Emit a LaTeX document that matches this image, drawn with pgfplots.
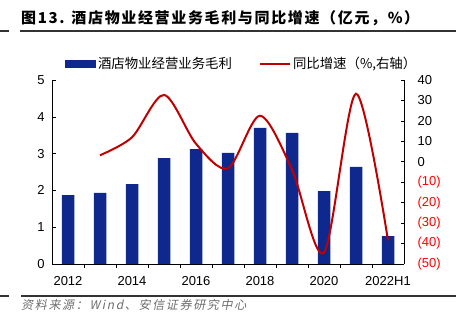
\documentclass[border=0pt]{standalone}
\usepackage{pgfplots}
\pgfplotsset{compat=1.18}
\usepackage{fontspec}
\setmainfont{Liberation Sans}
\newfontfamily\cjk{Noto Sans CJK SC}
\newfontfamily\cjktitle{Noto Sans CJK SC}[LetterSpace=11]
\newfontfamily\cjkit{Noto Sans CJK SC}[FakeSlant=0.2, LetterSpace=14]
\definecolor{barblue}{RGB}{14,40,142}
\definecolor{linered}{RGB}{192,0,0}
\definecolor{notegray}{RGB}{110,110,110}
\begin{document}
\begin{tikzpicture}
\path[use as bounding box] (0,0) rectangle (456bp,324bp);
% title and rules
\node[anchor=west, inner sep=0] at (21bp,306bp) {\cjktitle\bfseries\fontsize{15bp}{17bp}\selectfont 图13. 酒店物业经营业务毛利与同比增速（亿元，\%）};
\draw[line width=1.2bp, black!80] (0bp,293bp) -- (9bp,293bp);
\draw[line width=1.2bp, black!80] (20bp,293bp) -- (456bp,293bp);
\draw[line width=1.2bp, black!80] (0bp,28bp) -- (9bp,28bp);
\draw[line width=1.2bp, black!80] (21bp,28bp) -- (456bp,28bp);
\node[anchor=west, inner sep=0, text=notegray] at (21bp,19bp) {\cjkit\fontsize{12bp}{14bp}\selectfont 资料来源：Wind、安信证券研究中心};
\begin{axis}[
  at={(52bp,60bp)}, anchor=south west,
  scale only axis, width=352bp, height=184bp,
  xmin=-0.5, xmax=10.5, ymin=0, ymax=5,
  axis x line*=bottom, axis y line*=left,
  axis line style={-, line width=0.8bp},
  tick align=inside,
  xtick={0,2,4,6,8,10},
  xticklabels={2012,2014,2016,2018,2020,2022H1},
  major x tick style={draw=none},
  minor xtick={0.5,1.5,...,9.5},
  minor tick length=4bp,
  major tick length=4bp,
  ytick={0,1,2,3,4,5},
  tick style={black, line width=0.6bp},
  ticklabel style={font=\fontsize{13bp}{15bp}\selectfont},
  xticklabel style={yshift=-5bp},
  yticklabel style={xshift=-4bp},
  /pgf/number format/assume math mode=true,
  ybar, bar width=12.5bp,
  legend columns=2,
  legend style={at={(0.037,1.087)}, anchor=west, draw=none, fill=none,
    inner sep=0pt, outer sep=0pt,
    font=\cjk\fontsize{13.4bp}{15bp}\selectfont,
    /tikz/every even column/.append style={column sep=25bp}},
]
\addplot[fill=barblue, draw=none,
  legend image code/.code={\fill[barblue] (0bp,-4bp) rectangle (31bp,4bp);}]
  coordinates {(0,1.87) (1,1.93) (2,2.17) (3,2.88) (4,3.12) (5,3.02) (6,3.70) (7,3.56) (8,1.98) (9,2.64) (10,0.76)};
\addlegendentry{酒店物业经营业务毛利}
\addlegendimage{legend image code/.code={\draw[linered, line width=2bp] (0bp,0bp) -- (30bp,0bp);}}
\addlegendentry{同比增速（\%,右轴）}
\end{axis}
\begin{axis}[
  at={(52bp,60bp)}, anchor=south west,
  scale only axis, width=352bp, height=184bp,
  xmin=-0.5, xmax=10.5, ymin=-50, ymax=40,
  axis x line=none, axis y line*=right,
  axis line style={-, line width=0.8bp},
  tick align=inside, major tick length=3bp,
  tick style={black, line width=0.6bp},
  ytick={-50,-40,-30,-20,-10,0,10,20,30,40},
  yticklabels={{\color{red}(50)},{\color{red}(40)},{\color{red}(30)},{\color{red}(20)},{\color{red}(10)},0,10,20,30,40},
  yticklabel style={anchor=west, font=\fontsize{13bp}{15bp}\selectfont, xshift=10bp},
]
\addplot[linered, line width=2bp, smooth, mark=none]
  coordinates {(1,3.2) (2,12.0) (3,32.7) (4,8.8) (5,-3.2) (6,22.5) (7,-3.8) (8,-44.4) (9,33.3) (10,-38.5)};
\end{axis}
\end{tikzpicture}
\end{document}
